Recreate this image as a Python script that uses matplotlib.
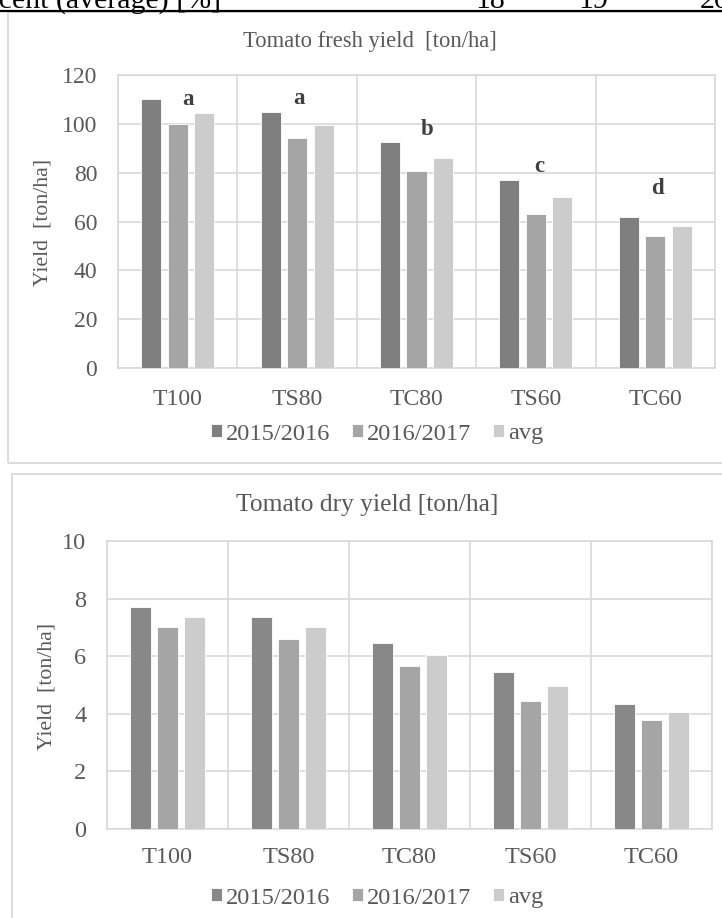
import numpy as np
import matplotlib.pyplot as plt
from matplotlib.patches import Rectangle
from matplotlib.lines import Line2D

plt.rcParams['font.family'] = ['Liberation Serif', 'DejaVu Serif']

treatments = ['T100', 'TS80', 'TC80', 'TS60', 'TC60']
seasons = ['2015/2016', '2016/2017', 'avg']

fresh_1516 = [110, 105, 92.5, 77, 62]
fresh_1617 = [100, 94, 80.5, 63, 54]
fresh_avg = [104.5, 99.5, 86, 70, 58]
fresh_letters = ['a', 'a', 'b', 'c', 'd']

dry_1516 = [7.7, 7.35, 6.45, 5.45, 4.35]
dry_1617 = [7.0, 6.6, 5.65, 4.45, 3.8]
dry_avg = [7.35, 7.0, 6.05, 4.95, 4.05]

header_label = 'Percent (average) [%]'
header_values = ['18', '19', '20']

# where the letters sit (data units)
letter_y = [110, 110.5, 97.5, 82.5, 73.5]
letter_dx = [0.09, 0.02, 0.09, 0.03, 0.02]

W, H = 722, 918
fig = plt.figure(figsize=(W / 100, H / 100), dpi=100)
grey_txt = '#595959'
grid_c = '#d9d9d9'


def rect(l, t, r, b):
    return [l / W, 1 - b / H, (r - l) / W, (b - t) / H]


def draw(ax, vals, colors, ymax, step, fs, xpad):
    x = np.arange(len(treatments))
    for i, (v, c, lab) in enumerate(zip(vals, colors, seasons)):
        ax.bar(x + (i - 1) * 0.222, v, width=0.168, color=c, edgecolor='white',
               linewidth=0.6, label=lab, zorder=3)
    ax.set_xlim(-0.5, 4.5)
    ax.set_ylim(0, ymax)
    ax.set_yticks(np.arange(0, ymax + step, step))
    ax.set_xticks(x, treatments)
    ax.set_xticks(np.arange(-0.5, 5, 1), minor=True)
    ax.grid(True, which='major', axis='y', color=grid_c, lw=1.2)
    ax.grid(True, which='minor', axis='x', color=grid_c, lw=1.2)
    ax.tick_params(which='both', length=0, colors=grey_txt, labelsize=fs)
    ax.tick_params(axis='y', pad=15)
    ax.tick_params(axis='x', pad=xpad)
    for s in ax.spines.values():
        s.set_color(grid_c)
        s.set_linewidth(1.2)
    ax.set_axisbelow(True)


# header row from the table above (cut off at the top, as in the page)
fig.text(221 / W, 1 - 8 / H, header_label, ha='right', va='baseline', fontsize=21.5, color='black')
for xp, v, ha in zip([490, 593, 700], header_values, ['center', 'center', 'left']):
    fig.text(xp / W, 1 - 8 / H, v, ha=ha, va='baseline', fontsize=21.5, color='black')
fig.add_artist(Line2D([0, 1], [1 - 11 / H] * 2, color='black', lw=1.6))

# chart frames
fig.add_artist(Rectangle((8 / W, 1 - 463 / H), 740 / W, 451 / H, transform=fig.transFigure,
                         fill=False, ec=grid_c, lw=1.3))
fig.add_artist(Rectangle((11.5 / W, -0.05), 740 / W, 1 - 474 / H + 0.05, transform=fig.transFigure,
                         fill=False, ec=grid_c, lw=1.3))

# fresh yield
ax1 = fig.add_axes(rect(118, 75, 715, 368))
draw(ax1, [fresh_1516, fresh_1617, fresh_avg], ['#7f7f7f', '#a5a5a5', '#cccccc'], 120, 20, 17, 15)
for i, (lt, y, dx) in enumerate(zip(fresh_letters, letter_y, letter_dx)):
    ax1.text(i + dx, y, lt, ha='center', va='center', fontsize=16.5, fontweight='bold', color='#404040')
fig.text(370 / W, 1 - 42 / H, 'Tomato fresh yield  [ton/ha]', ha='center', va='center',
         fontsize=16.3, color=grey_txt)
fig.text(43 / W, 1 - 222 / H, 'Yield  [ton/ha]', rotation=90, ha='center', va='center',
         fontsize=15.7, color=grey_txt)
ax1.legend(loc='center', bbox_to_anchor=(377 / W, 1 - 434 / H), bbox_transform=fig.transFigure,
           ncol=3, frameon=False, handlelength=0.45, handleheight=0.45, handletextpad=0.15,
           columnspacing=0.9, fontsize=17.6, labelcolor=grey_txt)

# dry yield
ax2 = fig.add_axes(rect(107, 541, 712, 829))
draw(ax2, [dry_1516, dry_1617, dry_avg], ['#888888', '#a5a5a5', '#cccccc'], 10, 2, 17.5, 13)
fig.text(367.5 / W, 1 - 505 / H, 'Tomato dry yield [ton/ha]', ha='center', va='center',
         fontsize=18.4, color=grey_txt)
fig.text(47 / W, 1 - 686 / H, 'Yield  [ton/ha]', rotation=90, ha='center', va='center',
         fontsize=15.7, color=grey_txt)
ax2.legend(loc='center', bbox_to_anchor=(377 / W, 1 - 898 / H), bbox_transform=fig.transFigure,
           ncol=3, frameon=False, handlelength=0.45, handleheight=0.45, handletextpad=0.15,
           columnspacing=0.9, fontsize=17.6, labelcolor=grey_txt)

fig.savefig('out.png', dpi=100)
